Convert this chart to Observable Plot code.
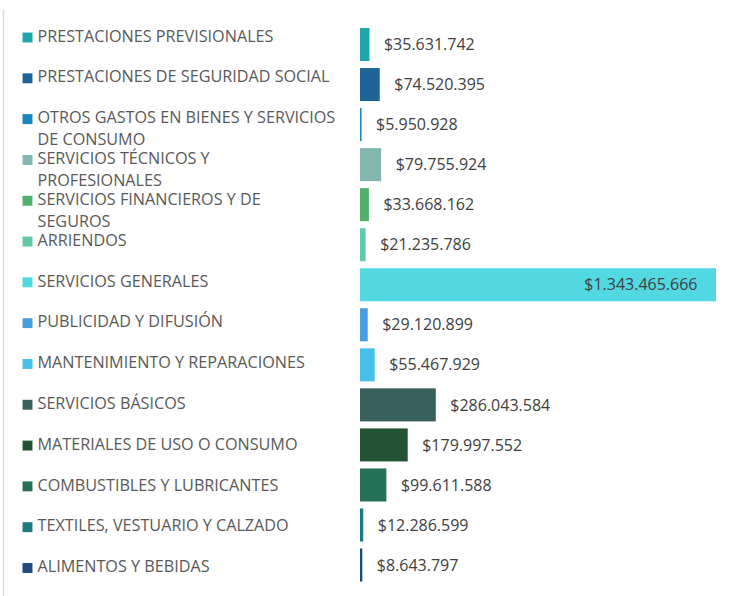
<!DOCTYPE html>
<html>
<head>
<meta charset="utf-8">
<script src="https://cdn.jsdelivr.net/npm/d3@7"></script>
<script src="https://cdn.jsdelivr.net/npm/@observablehq/plot@0.6"></script>
<style>
  html, body { margin: 0; padding: 0; background: #fff; }
  #chart { position: relative; width: 741px; height: 596px; }
  #chart svg { position: absolute; left: 0; top: 0; background: transparent; }
</style>
</head>
<body>
<div id="chart"></div>
<script>
const categories = [
  "PRESTACIONES PREVISIONALES",
  "PRESTACIONES DE SEGURIDAD SOCIAL",
  "OTROS GASTOS EN BIENES Y SERVICIOS DE CONSUMO",
  "SERVICIOS TÉCNICOS Y PROFESIONALES",
  "SERVICIOS FINANCIEROS Y DE SEGUROS",
  "ARRIENDOS",
  "SERVICIOS GENERALES",
  "PUBLICIDAD Y DIFUSIÓN",
  "MANTENIMIENTO Y REPARACIONES",
  "SERVICIOS BÁSICOS",
  "MATERIALES DE USO O CONSUMO",
  "COMBUSTIBLES Y LUBRICANTES",
  "TEXTILES, VESTUARIO Y CALZADO",
  "ALIMENTOS Y BEBIDAS"
];
const labelLine1 = [
  "PRESTACIONES PREVISIONALES",
  "PRESTACIONES DE SEGURIDAD SOCIAL",
  "OTROS GASTOS EN BIENES Y SERVICIOS",
  "SERVICIOS TÉCNICOS Y",
  "SERVICIOS FINANCIEROS Y DE",
  "ARRIENDOS",
  "SERVICIOS GENERALES",
  "PUBLICIDAD Y DIFUSIÓN",
  "MANTENIMIENTO Y REPARACIONES",
  "SERVICIOS BÁSICOS",
  "MATERIALES DE USO O CONSUMO",
  "COMBUSTIBLES Y LUBRICANTES",
  "TEXTILES, VESTUARIO Y CALZADO",
  "ALIMENTOS Y BEBIDAS"
];
const labelLine2 = [
  "", "", "DE CONSUMO", "PROFESIONALES", "SEGUROS",
  "", "", "", "", "", "", "", "", ""
];
const values = [
  35631742, 74520395, 5950928, 79755924, 33668162, 21235786, 1343465666,
  29120899, 55467929, 286043584, 179997552, 99611588, 12286599, 8643797
];
const colors = [
  "#1fa6ac", "#1f6498", "#1788bc", "#84b6b0", "#52b16c", "#62c8a8", "#52d8e0",
  "#489fdf", "#48beea", "#39605c", "#245234", "#277058", "#1a7a80", "#1a4e78"
];

const data = categories.map((c, i) => ({
  cat: c, l1: labelLine1[i], l2: labelLine2[i], value: values[i], color: colors[i]
}));
const maxVal = d3.max(values);

const locale = d3.formatLocale({decimal: ",", thousands: ".", grouping: [3], currency: ["$", ""]});
const fmt = locale.format("$,d");

const font = "'Open Sans', 'Noto Sans', sans-serif";

// Bars and value labels
const bars = Plot.plot({
  width: 741,
  height: 596,
  marginLeft: 3,
  marginTop: 10,
  marginRight: 0,
  marginBottom: 0,
  style: {fontFamily: font, background: "transparent"},
  x: {domain: [0, maxVal], range: [360, 716], axis: null},
  y: {domain: categories, range: [24.5, 585.06], paddingInner: 0.175, paddingOuter: 0.0875, round: false, axis: null},
  color: {domain: categories, range: colors},
  marks: [
    Plot.frame({anchor: "left", stroke: "#d9d9d9", strokeWidth: 1.5}),
    Plot.barX(data, {y: "cat", x: "value", fill: "cat"}),
    Plot.text(data.filter(d => d.value < maxVal), {
      y: "cat", x: "value", text: d => fmt(d.value), dx: 14,
      textAnchor: "start", fill: "#404040", fontSize: 16
    }),
    Plot.text(data.filter(d => d.value === maxVal), {
      y: "cat", x: "value", text: d => fmt(d.value), dx: -19,
      textAnchor: "end", fill: "#404040", fontSize: 16
    })
  ]
});

// Legend-style category labels (own vertical spacing, point scale)
const legend = Plot.plot({
  width: 741,
  height: 596,
  marginLeft: 3,
  marginTop: 10,
  marginRight: 0,
  marginBottom: 0,
  style: {fontFamily: font, background: "transparent"},
  y: {type: "point", domain: categories, range: [37, 567.5], padding: 0, round: false, axis: null},
  color: {domain: categories, range: colors},
  marks: [
    Plot.dot(data, {
      y: "cat", frameAnchor: "left", dx: 24,
      symbol: "square", r: 5.6, fill: "cat", stroke: null
    }),
    Plot.text(data, {
      y: "cat", text: "l1", frameAnchor: "left", dx: 34, dy: -1,
      textAnchor: "start", lineAnchor: "middle",
      fill: "#595959", fontSize: 16.2
    }),
    Plot.text(data.filter(d => d.l2), {
      y: "cat", text: "l2", frameAnchor: "left", dx: 34, dy: 21,
      textAnchor: "start", lineAnchor: "middle",
      fill: "#595959", fontSize: 16.2
    })
  ]
});

const root = document.getElementById("chart");
root.appendChild(bars);
root.appendChild(legend);
</script>
</body>
</html>
